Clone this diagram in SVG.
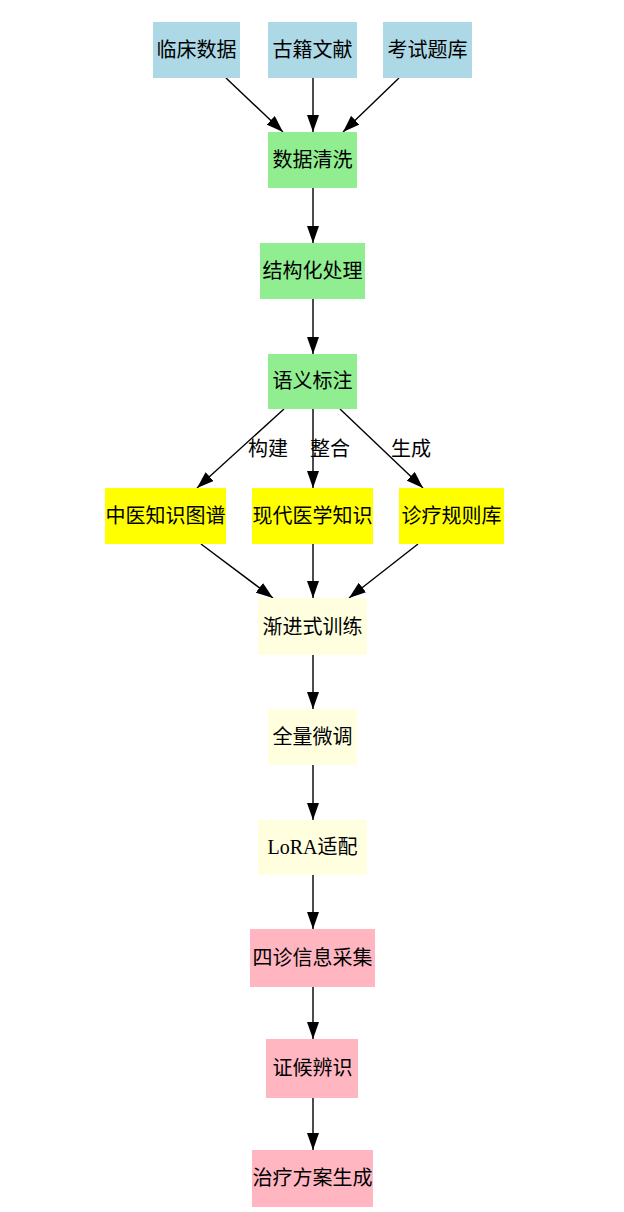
<svg xmlns="http://www.w3.org/2000/svg" width="624" height="1212" viewBox="0 0 624 1212">
<style>
text{font-family:"Liberation Serif","Noto Sans CJK SC",serif;font-size:20px;fill:#000;text-anchor:middle;dominant-baseline:central}
.e{stroke:#000;stroke-width:1.4;fill:none;marker-end:url(#ah)}
.b{fill:#add8e6}.g{fill:#90ee90}.y{fill:#ffff00}.ly{fill:#ffffe0}.p{fill:#ffb6c1}
</style>
<defs><marker id="ah" markerUnits="userSpaceOnUse" markerWidth="17" markerHeight="12" refX="17" refY="6" orient="auto"><path d="M0,0 L17,6 L0,12 z" fill="#000"/></marker></defs>
<rect width="624" height="1212" fill="#fff"/>
<g id="edges">
<line class="e" x1="226" y1="78" x2="283" y2="132"/>
<line class="e" x1="313" y1="78" x2="313" y2="132"/>
<line class="e" x1="399" y1="78" x2="343" y2="132"/>
<line class="e" x1="313" y1="188" x2="313" y2="243"/>
<line class="e" x1="313" y1="299" x2="313" y2="354"/>
<line class="e" x1="284" y1="409" x2="197" y2="488"/>
<line class="e" x1="313" y1="409" x2="313" y2="488"/>
<line class="e" x1="340" y1="409" x2="423" y2="488"/>
<text x="268" y="449">构建</text>
<text x="330" y="449">整合</text>
<text x="411" y="449">生成</text>
<line class="e" x1="201" y1="544" x2="273" y2="598"/>
<line class="e" x1="313" y1="544" x2="313" y2="598"/>
<line class="e" x1="418" y1="544" x2="349" y2="598"/>
<line class="e" x1="313" y1="655" x2="313" y2="709"/>
<line class="e" x1="313" y1="765" x2="313" y2="820"/>
<line class="e" x1="313" y1="875" x2="313" y2="929"/>
<line class="e" x1="313" y1="987" x2="313" y2="1039"/>
<line class="e" x1="313" y1="1098" x2="313" y2="1150"/>
</g>
<g id="n1"><rect class="b" x="153" y="22" width="87" height="56"/><text x="196.5" y="50">临床数据</text></g>
<g id="n2"><rect class="b" x="268" y="22" width="89" height="56"/><text x="312.5" y="50">古籍文献</text></g>
<g id="n3"><rect class="b" x="383" y="22" width="89" height="56"/><text x="427.5" y="50">考试题库</text></g>
<g id="n4"><rect class="g" x="268" y="132" width="89" height="56"/><text x="312.5" y="160">数据清洗</text></g>
<g id="n5"><rect class="g" x="260" y="243" width="105" height="56"/><text x="312.5" y="271">结构化处理</text></g>
<g id="n6"><rect class="g" x="268" y="354" width="89" height="55"/><text x="312.5" y="381">语义标注</text></g>
<g id="n7"><rect class="y" x="105" y="488" width="121" height="56"/><text x="165.5" y="516">中医知识图谱</text></g>
<g id="n8"><rect class="y" x="252" y="488" width="121" height="56"/><text x="312.5" y="516">现代医学知识</text></g>
<g id="n9"><rect class="y" x="399" y="488" width="105" height="56"/><text x="451.5" y="516">诊疗规则库</text></g>
<g id="n10"><rect class="ly" x="258" y="598" width="109" height="57"/><text x="312.5" y="626.5">渐进式训练</text></g>
<g id="n11"><rect class="ly" x="268" y="709" width="89" height="56"/><text x="312.5" y="737">全量微调</text></g>
<g id="n12"><rect class="ly" x="258" y="820" width="109" height="55"/><text x="312.5" y="847">LoRA适配</text></g>
<g id="n13"><rect class="p" x="250" y="929" width="125" height="58"/><text x="312.5" y="958">四诊信息采集</text></g>
<g id="n14"><rect class="p" x="266" y="1039" width="92" height="59"/><text x="312.5" y="1068">证候辨识</text></g>
<g id="n15"><rect class="p" x="252" y="1150" width="121" height="57"/><text x="312.5" y="1178">治疗方案生成</text></g>
</svg>
